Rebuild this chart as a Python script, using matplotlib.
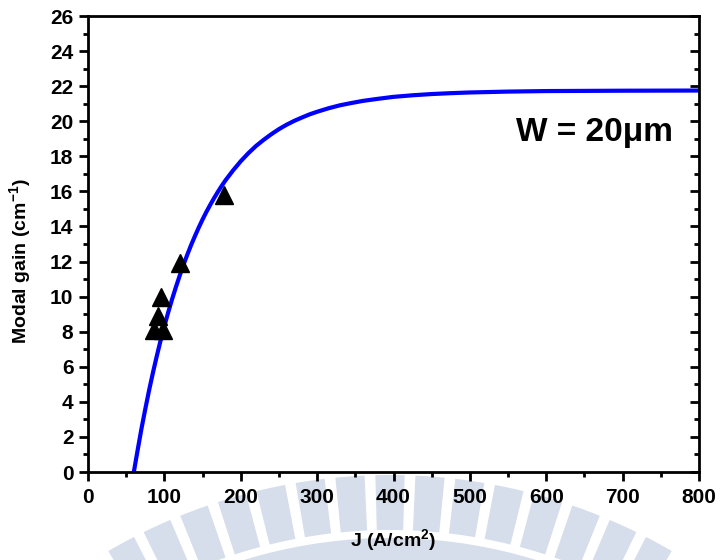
import matplotlib
matplotlib.use("Agg")
import matplotlib.pyplot as plt
from matplotlib.ticker import MultipleLocator
from matplotlib.patches import Wedge

plt.rcParams["mathtext.fontset"] = "custom"
plt.rcParams["mathtext.rm"] = "Liberation Sans:bold"
plt.rcParams["mathtext.it"] = "Liberation Sans:bold"
plt.rcParams["mathtext.bf"] = "Liberation Sans:bold"

# measured points
J_data = [86, 98, 91, 96, 120, 178]
g_data = [8.1, 8.1, 8.9, 10.0, 11.9, 15.8]

# fitted curve
J_fit = [60, 65, 70, 75, 80, 85, 90, 95, 100, 105, 110, 115, 120, 125, 130, 135, 140, 145,
         150, 155, 160, 165, 170, 175, 180, 190, 200, 210, 220, 230, 240, 250, 260, 270,
         280, 290, 300, 315, 330, 345, 360, 380, 400, 425, 450, 475, 500, 550, 600, 700, 800]
g_fit = [0.0, 1.25, 2.47, 3.59, 4.66, 5.66, 6.60, 7.49, 8.32, 9.10, 9.84, 10.53, 11.19,
         11.81, 12.39, 12.94, 13.45, 13.94, 14.40, 14.83, 15.23, 15.61, 15.97, 16.31,
         16.63, 17.20, 17.72, 18.18, 18.59, 18.94, 19.26, 19.55, 19.80, 20.02, 20.21,
         20.39, 20.54, 20.74, 20.91, 21.04, 21.16, 21.28, 21.39, 21.48, 21.55, 21.60,
         21.64, 21.69, 21.72, 21.74, 21.75]

x_ticks = [0, 100, 200, 300, 400, 500, 600, 700, 800]
y_ticks = [0, 2, 4, 6, 8, 10, 12, 14, 16, 18, 20, 22, 24, 26]

fig = plt.figure(figsize=(7.23, 5.60), dpi=100)

# faint background watermark (logo of radial bars below the plot)
wm_color = "#d7deeb"
cx, cy = 3.90, 5.60 - 10.35   # inches
for k in range(-7, 8):
    a = 90 + k * 4.1
    fig.patches.append(Wedge((cx, cy), 5.60, a - 1.5, a + 1.5, width=0.55,
                             transform=fig.dpi_scale_trans, color=wm_color,
                             zorder=-5, lw=0))
fig.patches.append(Wedge((cx, cy), 4.97, 60, 120, width=0.30,
                         transform=fig.dpi_scale_trans, color=wm_color, zorder=-5, lw=0))

ax = fig.add_axes([88/723, 1-472/560, (699-88)/723, (472-16)/560])

ax.plot(J_fit, g_fit, color="#0000FF", lw=3.0, zorder=2, solid_capstyle="butt")
ax.plot(J_data, g_data, linestyle="none", marker="^", color="black",
        markersize=12.5, zorder=3)

ax.set_xlim(0, 800)
ax.set_ylim(0, 26)
ax.set_xticks(x_ticks)
ax.set_yticks(y_ticks)
ax.xaxis.set_minor_locator(MultipleLocator(50))
ax.yaxis.set_minor_locator(MultipleLocator(1))

for s in ax.spines.values():
    s.set_linewidth(2.0)

ax.tick_params(axis="both", which="major", direction="out", length=6.5, width=2.0,
               right=False, top=False)
ax.tick_params(axis="both", which="minor", direction="out", length=3.6, width=2.0,
               right=False, top=False)

# right-side inward ticks
axr = ax.twinx()
axr.set_ylim(0, 26)
axr.set_yticks(y_ticks)
axr.yaxis.set_minor_locator(MultipleLocator(1))
axr.tick_params(axis="y", which="major", direction="in", length=6.5, width=2.0, labelright=False)
axr.tick_params(axis="y", which="minor", direction="in", length=3.6, width=2.0, labelright=False)
for s in axr.spines.values():
    s.set_visible(False)

ax.set_xticklabels([str(v) for v in x_ticks], fontfamily="Liberation Sans",
                   fontweight="bold", fontsize=15)
ax.set_yticklabels([str(v) for v in y_ticks], fontfamily="Liberation Sans",
                   fontweight="bold", fontsize=15)
ax.tick_params(axis="x", pad=5)
ax.tick_params(axis="y", pad=4)

ax.set_xlabel(r"J (A/cm$^\mathregular{2}$)", fontfamily="Liberation Sans",
              fontweight="bold", fontsize=14)
ax.set_ylabel(r"Modal gain (cm$^\mathregular{-1}$)", fontfamily="Liberation Sans",
              fontweight="bold", fontsize=14)
ax.xaxis.set_label_coords(0.5, (472-540)/456, transform=ax.transAxes)
ax.xaxis.label.set_va("center")
ax.yaxis.set_label_coords((20-88)/611, (472-261)/456, transform=ax.transAxes)
ax.yaxis.label.set_va("center")

ax.text((673-88)/611, (472-133)/456, "W = 20\u03bcm", transform=ax.transAxes,
        ha="right", va="center", fontfamily="Liberation Sans", fontweight="bold",
        fontsize=24)

fig.savefig("out.png", dpi=100)
